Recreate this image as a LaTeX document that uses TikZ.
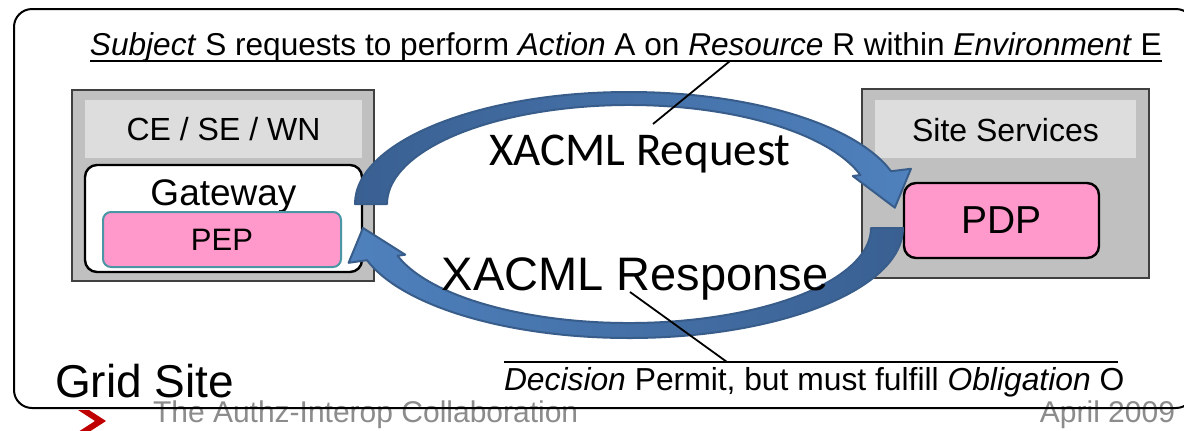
\documentclass[tikz,border=0pt]{standalone}
\usepackage{fontspec}
\setmainfont{Liberation Sans}
\newfontfamily\calib{Carlito}
\usetikzlibrary{calc}
\definecolor{boxgray}{HTML}{C0C0C0}
\definecolor{hdrgray}{HTML}{DDDDDD}
\definecolor{edgegray}{HTML}{404040}
\definecolor{pepPink}{HTML}{FF99CC}
\definecolor{pepedge}{HTML}{4B96A5}
\definecolor{arrdark}{HTML}{3A6092}
\definecolor{arrlight}{HTML}{4F81BD}
\definecolor{arredge}{HTML}{385D8A}
\definecolor{footgray}{HTML}{8C8C8C}
\definecolor{chevred}{HTML}{C00000}
\tikzset{
  graybox/.style={draw=edgegray, fill=boxgray, line width=1pt, inner sep=0pt},
  hdrbox/.style={fill=hdrgray, inner sep=0pt},
  gwbox/.style={draw=black, fill=white, line width=1.2pt, rounded corners=6pt, inner sep=0pt},
  pepbox/.style={draw=pepedge, fill=pepPink, line width=1pt, rounded corners=4pt, inner sep=0pt},
  pdpbox/.style={draw=black, fill=pepPink, line width=1.2pt, rounded corners=6pt, inner sep=0pt},
  txt/.style={inner sep=0pt, outer sep=0pt},
  blockarrow/.style={draw=arredge, line width=1pt, line join=round},
  pointer/.style={draw=black, line width=0.9pt},
  rule/.style={draw=black, line width=1.2pt},
}
\begin{document}
\begin{tikzpicture}[x=0.5pt, y=-0.5pt]
\useasboundingbox (0,0) rectangle (1184,430);
\clip (0,0) rectangle (1184,430);
\fill[white] (0,0) rectangle (1184,430);

% footer (under the frame line)
\node[txt, anchor=base west, text=footgray, font=\fontsize{15}{18}\selectfont] (foot) at (153,422) {The Authz-Interop Collaboration};
\node[txt, anchor=base east, text=footgray, font=\fontsize{15}{18}\selectfont] (date) at (1175,422) {April 2009};
\fill[chevred] (78,410) -- (89,410) -- (106,421) -- (89,432) -- (78,432) -- (95,421) -- cycle;

% outer frame
\draw[line width=1pt, rounded corners=9pt] (14,9) rectangle (1194,408);

% left box
\node[graybox, minimum width=151pt, minimum height=95.5pt] (left) at (223,185.5) {};
\node[hdrbox, minimum width=138.5pt, minimum height=29pt] (lefthdr) at (223.5,129) {};
\node[txt, anchor=base, font=\fontsize{16}{19}\selectfont] (celabel) at (223.5,140) {CE / SE / WN};
\node[gwbox, minimum width=138.5pt, minimum height=53.5pt] (gw) at (223.5,218.5) {};
\node[txt, anchor=base, font=\fontsize{18.5}{22}\selectfont] (gwlabel) at (223.5,205) {Gateway};
\node[pepbox, minimum width=119pt, minimum height=27.5pt, font=\fontsize{15.5}{18}\selectfont] (pep) at (222,239.5) {PEP};

% right box
\node[graybox, minimum width=143.5pt, minimum height=94.5pt] (right) at (1005.5,183.5) {};
\node[hdrbox, minimum width=130.5pt, minimum height=29pt] (righthdr) at (1005.5,129) {};
\node[txt, anchor=base, font=\fontsize{16}{19}\selectfont] (sslabel) at (1005.5,141) {Site Services};
\node[pdpbox, minimum width=97.5pt, minimum height=37.5pt, font=\fontsize{19.5}{23}\selectfont] (pdp) at (1001.5,220.5) {PDP};

% upper block arrow (request)
\coordinate (cu) at (629,204);
\coordinate (uPo) at ($(cu)+(343:274 and 112)$);
\coordinate (uPi) at ($(cu)+(343:242 and 99)$);
\coordinate (uWo) at ($(uPo)!-0.65!(uPi)$);
\coordinate (uWi) at ($(uPi)!-0.25!(uPo)$);
\coordinate (uTip) at ($(cu)+(2:266 and 105)$);
\shade[blockarrow, left color=arrdark, middle color=arrdark, right color=arrlight]
  ($(cu)+(180:274 and 112)$) arc[start angle=180, end angle=343, x radius=274, y radius=112]
  -- (uWo) -- (uTip) -- (uWi) -- (uPi)
  arc[start angle=343, end angle=180, x radius=242, y radius=99] -- cycle;

% lower block arrow (response)
\coordinate (cl) at (629,228);
\coordinate (lPo) at ($(cl)+(163:274 and 110)$);
\coordinate (lPi) at ($(cl)+(163:242 and 95)$);
\coordinate (lWo) at ($(lPo)!-0.6!(lPi)$);
\coordinate (lWi) at ($(lPi)!-0.25!(lPo)$);
\coordinate (lTip) at ($(cl)+(180:266 and 100)$);
\shade[blockarrow, left color=arrlight, middle color=arrdark, right color=arrdark]
  ($(cl)+(0:274 and 110)$) arc[start angle=0, end angle=163, x radius=274, y radius=110]
  -- (lWo) -- (lTip) -- (lWi) -- (lPi)
  arc[start angle=163, end angle=0, x radius=242, y radius=95] -- cycle;

% labels in the loop
\node[txt, anchor=base, font=\calib\fontsize{23.5}{28}\selectfont] (xreq) at (640,165) {XACML Request};
\node[txt, anchor=base, font=\fontsize{23.5}{28}\selectfont] (xresp) at (635,290) {XACML Response};

% request description
\node[txt, anchor=base west, font=\fontsize{15.8}{19}\selectfont] (subj) at (90,55)
  {\textit{Subject} S requests to perform \textit{Action} A on \textit{Resource} R within \textit{Environment} E};
\draw[rule] ($(subj.base west)+(0,6)$) -- ($(subj.base east)+(0,6)$);
\coordinate (reqpt) at (730,61);
\coordinate (reqend) at (653,124);
\draw[pointer] (reqpt) -- (reqend);

% response description
\node[txt, anchor=base west, font=\fontsize{15.9}{19}\selectfont] (dec) at (504,390)
  {\textit{Decision} Permit, but must fulfill \textit{Obligation} O};
\draw[rule] ($(dec.base west)+(0,-28)$) -- ($(dec.base east)+(-6,-28)$);
\coordinate (resppt) at (630,292);
\coordinate (respend) at (727,362);
\draw[pointer] (resppt) -- (respend);

% site label
\node[txt, anchor=base west, font=\fontsize{23}{28}\selectfont] (grid) at (55,397) {Grid Site};
\end{tikzpicture}
\end{document}
